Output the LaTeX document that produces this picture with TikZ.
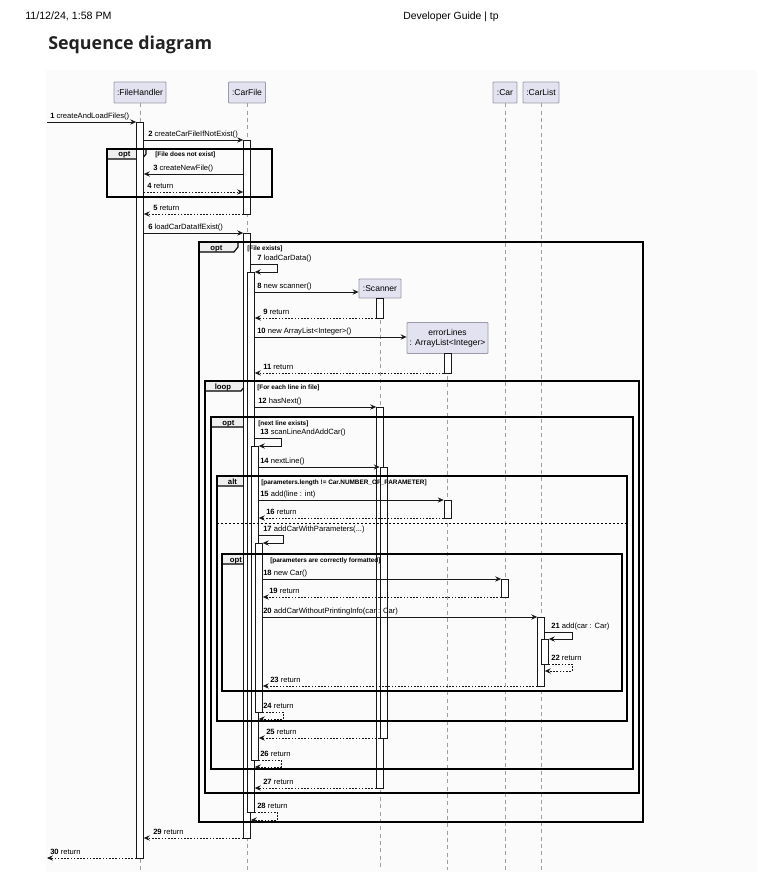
\documentclass[tikz,border=0pt]{standalone}
\usepackage{fontspec}
\setmainfont{Liberation Sans}
\newfontfamily\headfont{Open Sans}
\usepackage{tikz}
\usetikzlibrary{arrows.meta}

\definecolor{partfill}{HTML}{E2E2F0}
\definecolor{partdraw}{HTML}{9A9AA8}
\definecolor{tabfill}{HTML}{EEEEEE}
\definecolor{inkline}{HTML}{181818}
\definecolor{bgpage}{HTML}{FBFBFB}
\definecolor{headink}{HTML}{222222}

\tikzset{
    part/.style={draw=partdraw, fill=partfill, line width=0.6pt, inner sep=0pt,
        minimum height=15.75pt, rounded corners=0.6pt,
        font=\fontsize{6.4}{7.6}\selectfont},
    lifeline/.style={draw=gray!75, line width=0.5pt, dash pattern=on 3pt off 2.5pt},
    actbox/.style={draw=inkline, fill=white, line width=0.5pt, inner sep=0pt,
        minimum width=5.25pt},
    msg/.style={draw=inkline, line width=0.55pt,
        -{Stealth[length=4.5pt,width=4pt,inset=1.6pt]}},
    ret/.style={msg, dash pattern=on 1.2pt off 1.2pt},
    frame/.style={draw=black, line width=0.85pt},
    tab/.style={draw=black, fill=tabfill, line width=0.85pt},
    lbl/.style={anchor=base west, inner sep=0pt, font=\fontsize{5.7}{6.5}\selectfont},
    tabtext/.style={anchor=base, inner sep=0pt, font=\fontsize{5.8}{6.5}\selectfont\bfseries},
    guard/.style={anchor=base west, inner sep=0pt, font=\fontsize{4.8}{5.5}\selectfont\bfseries}
}

% activation bar: name, x, top, bottom (in px)
\newcommand{\actbar}[4]{\node[actbox, minimum height={(#4-#3)*0.75pt}] (#1) at (#2,{(#3+#4)/2}) {};}

\begin{document}
\begin{tikzpicture}[x=0.75pt, y=-0.75pt]

\useasboundingbox (0,0) rectangle (781,884);

% Page header
\node[anchor=base west, inner sep=0pt, font=\fontsize{8}{9}\selectfont] (stamp) at (25,20) {11/12/24, 1:58 PM};
\node[anchor=base, inner sep=0pt, font=\fontsize{7.8}{9}\selectfont] (pgtitle) at (451,20) {Developer Guide | tp};
\node[anchor=base west, inner sep=0pt, text=headink, font=\headfont\bfseries\fontsize{13.4}{16}\selectfont] (head) at (48,50) {Sequence diagram};

% Diagram background
\fill[bgpage] (46,70) rectangle (757,872);

% Participants
\node[part, minimum width=39pt] (fh) at (140,92.5) {:FileHandler};
\node[part, minimum width=27.75pt] (cf) at (247,92.5) {:CarFile};
\node[part, minimum width=18pt] (car) at (505,92.5) {:Car};
\node[part, minimum width=27pt] (cl) at (541,92.5) {:CarList};
\node[part, minimum width=31.5pt, minimum height=14.25pt] (sc) at (380,288.5) {:Scanner};
\node[part, minimum width=60.75pt, minimum height=23.25pt, align=center] (el) at (447.5,338) {errorLines\\: ArrayList<Integer>};

\coordinate (entry) at (47,122);
\coordinate (exit) at (47,858);

% Lifelines
\foreach \p in {fh,cf,car,cl,sc,el}
    \draw[lifeline] (\p.south) -- (\p.south |- 0,870);

% Frame tabs
\draw[tab] (107,149) -- ++(39,0) -- ++(0,5) -- ++(-4,5) -- ++(-35,0) -- cycle;
\draw[tab] (199,242) -- ++(39,0) -- ++(0,5) -- ++(-4,5) -- ++(-35,0) -- cycle;
\draw[tab] (205,381) -- ++(40,0) -- ++(0,5) -- ++(-4,5) -- ++(-36,0) -- cycle;
\draw[tab] (211,417) -- ++(39,0) -- ++(0,5) -- ++(-4,5) -- ++(-35,0) -- cycle;
\draw[tab] (217,476) -- ++(35,0) -- ++(0,5) -- ++(-4,5) -- ++(-31,0) -- cycle;
\draw[tab] (222,554) -- ++(40,0) -- ++(0,5) -- ++(-4,5) -- ++(-36,0) -- cycle;

\node[tabtext] (t1) at (124.5,157) {opt};
\node[tabtext] (t2) at (216.5,250) {opt};
\node[tabtext] (t3) at (223,389) {loop};
\node[tabtext] (t4) at (228.5,425) {opt};
\node[tabtext] (t5) at (232.5,484) {alt};
\node[tabtext] (t6) at (236,562) {opt};

% Activation bars
\actbar{fhA}{140}{122}{858}
\actbar{cfA}{247}{140}{214}
\actbar{cfB}{247}{233}{838}
\actbar{cfC}{251}{272}{812}
\actbar{cfD}{255}{446}{760}
\actbar{cfE}{259}{543}{712}
\actbar{scA}{380}{298}{318}
\actbar{scB}{380}{407}{788}
\actbar{scC}{383.5}{467}{738}
\actbar{elA}{447.5}{353}{373}
\actbar{elB}{447.5}{500}{518}
\actbar{carA}{505}{579}{597}
\actbar{clA}{541}{617}{686}
\actbar{clB}{545}{639}{664}

% Frames
\draw[frame] (107,149) rectangle (272,197);
\draw[frame] (199,242) rectangle (643,822);
\draw[frame] (205,381) rectangle (639,793);
\draw[frame] (211,417) rectangle (633,769);
\draw[frame] (217,476) rectangle (627,721);
\draw[frame] (222,554) rectangle (622,691);
\draw[draw=black, line width=0.5pt, dash pattern=on 1.5pt off 1.5pt] (217,523) -- (627,523);

\node[guard] (g1) at (155,157) {[File does not exist]};
\node[guard] (g2) at (247,250) {[File exists]};
\node[guard] (g3) at (257,389) {[For each line in file]};
\node[guard] (g4) at (258,425) {[next line exists]};
\node[guard] (g5) at (261,484) {[parameters.length != Car.NUMBER\_OF\_PARAMETER]};
\node[guard] (g6) at (270,562) {[parameters are correctly formatted]};

% Messages
\draw[msg] (entry) -- (fhA.west |- entry);
\draw[msg] (fhA.east |- 0,140) -- (cfA.west |- 0,140);
\draw[msg] (cfA.west |- 0,174) -- (fhA.east |- 0,174);
\draw[ret] (fhA.east |- 0,192) -- (cfA.west |- 0,192);
\draw[ret] (cfA.west |- 0,214) -- (fhA.east |- 0,214);
\draw[msg] (fhA.east |- 0,233) -- (cfB.west |- 0,233);
\draw[msg] (cfB.east |- 0,264) -- ++(26.5,0) -- ++(0,8) -- (cfC.east |- 0,272);
\draw[msg] (cfC.east |- 0,292) -- (sc.west |- 0,292);
\draw[ret] (scA.west |- 0,318) -- (cfC.east |- 0,318);
\draw[msg] (cfC.east |- 0,337) -- (el.west |- 0,337);
\draw[ret] (elA.west |- 0,373) -- (cfC.east |- 0,373);
\draw[msg] (cfC.east |- 0,407) -- (scB.west |- 0,407);
\draw[msg] (cfC.east |- 0,438) -- ++(26.5,0) -- ++(0,8) -- (cfD.east |- 0,446);
\draw[msg] (cfD.east |- 0,467) -- (scC.west |- 0,467);
\draw[msg] (cfD.east |- 0,500) -- (elB.west |- 0,500);
\draw[ret] (elB.west |- 0,518) -- (cfD.east |- 0,518);
\draw[msg] (cfD.east |- 0,535) -- ++(24.5,0) -- ++(0,8) -- (cfE.east |- 0,543);
\draw[msg] (cfE.east |- 0,579) -- (carA.west |- 0,579);
\draw[ret] (carA.west |- 0,597) -- (cfE.east |- 0,597);
\draw[msg] (cfE.east |- 0,617) -- (clA.west |- 0,617);
\draw[msg] (clA.east |- 0,632) -- ++(27.5,0) -- ++(0,7) -- (clB.east |- 0,639);
\draw[ret] (clB.east |- 0,664) -- ++(23.5,0) -- ++(0,7) -- (clA.east |- 0,671);
\draw[ret] (clA.west |- 0,686) -- (cfE.east |- 0,686);
\draw[ret] (cfE.east |- 0,712) -- ++(20.5,0) -- ++(0,7) -- (cfD.east |- 0,719);
\draw[ret] (scC.west |- 0,738) -- (cfD.east |- 0,738);
\draw[ret] (cfD.east |- 0,760) -- ++(22.5,0) -- ++(0,7) -- (cfC.east |- 0,767);
\draw[ret] (scB.west |- 0,788) -- (cfC.east |- 0,788);
\draw[ret] (cfC.east |- 0,812) -- ++(22.5,0) -- ++(0,8) -- (cfB.east |- 0,820);
\draw[ret] (cfB.west |- 0,838) -- (fhA.east |- 0,838);
\draw[ret] (fhA.west |- exit) -- (exit);

% Message labels
\node[lbl] (m1) at (50,118.5) {\textbf{1} createAndLoadFiles()};
\node[lbl] (m2) at (148,136.5) {\textbf{2} createCarFileIfNotExist()};
\node[lbl] (m3) at (153,170.5) {\textbf{3} createNewFile()};
\node[lbl] (m4) at (147,188.5) {\textbf{4} return};
\node[lbl] (m5) at (153,210.5) {\textbf{5} return};
\node[lbl] (m6) at (148,229.5) {\textbf{6} loadCarDataIfExist()};
\node[lbl] (m7) at (257,260.5) {\textbf{7} loadCarData()};
\node[lbl] (m8) at (257,288.5) {\textbf{8} new scanner()};
\node[lbl] (m9) at (263,314.5) {\textbf{9} return};
\node[lbl] (m10) at (257,333.5) {\textbf{10} new ArrayList<Integer>()};
\node[lbl] (m11) at (263,369.5) {\textbf{11} return};
\node[lbl] (m12) at (258,403.5) {\textbf{12} hasNext()};
\node[lbl] (m13) at (260,434.5) {\textbf{13} scanLineAndAddCar()};
\node[lbl] (m14) at (260,463.5) {\textbf{14} nextLine()};
\node[lbl] (m15) at (260,496.5) {\textbf{15} add(line : int)};
\node[lbl] (m16) at (266,514.5) {\textbf{16} return};
\node[lbl] (m17) at (263,531.5) {\textbf{17} addCarWithParameters(...)};
\node[lbl] (m18) at (263,575.5) {\textbf{18} new Car()};
\node[lbl] (m19) at (269,593.5) {\textbf{19} return};
\node[lbl] (m20) at (263,613.5) {\textbf{20} addCarWithoutPrintingInfo(car : Car)};
\node[lbl] (m21) at (551,628.5) {\textbf{21} add(car : Car)};
\node[lbl] (m22) at (551,660.5) {\textbf{22} return};
\node[lbl] (m23) at (270,682.5) {\textbf{23} return};
\node[lbl] (m24) at (263,708.5) {\textbf{24} return};
\node[lbl] (m25) at (266,734.5) {\textbf{25} return};
\node[lbl] (m26) at (260,756.5) {\textbf{26} return};
\node[lbl] (m27) at (263,784.5) {\textbf{27} return};
\node[lbl] (m28) at (257,808.5) {\textbf{28} return};
\node[lbl] (m29) at (153,834.5) {\textbf{29} return};
\node[lbl] (m30) at (50,854.5) {\textbf{30} return};

\end{tikzpicture}
\end{document}
